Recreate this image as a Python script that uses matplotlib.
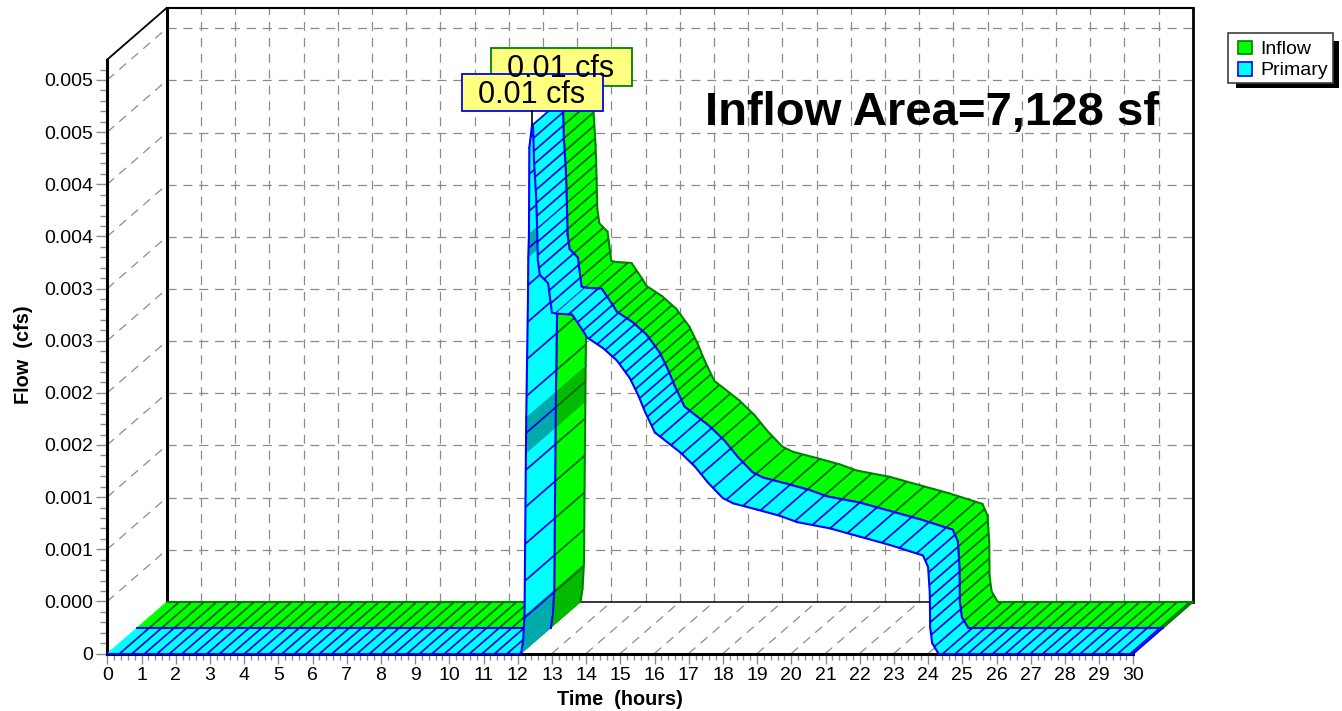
import math
import matplotlib
matplotlib.use('Agg')
import matplotlib.pyplot as plt
from matplotlib.patches import Rectangle

plt.rcParams['font.family'] = ['Liberation Sans', 'DejaVu Sans']

# hydrograph, Primary equals Inflow in shape
hours = [0, 12.1, 12.16, 12.2, 12.24, 12.25, 12.3, 12.31, 12.33, 12.34, 12.42,
         12.45, 12.48, 12.54, 12.57, 12.59, 12.65, 12.89, 13.0, 13.12, 13.59,
         13.9, 14.03, 14.49, 14.9, 15.28, 15.52, 15.72, 16.01, 16.75, 17.19,
         17.56, 18.0, 18.3, 19.0, 19.67, 20.17, 21.13, 22.01, 22.89, 23.85,
         24.0, 24.05, 24.06, 24.12, 24.3, 30]
flow = [0, 0, 0.00013, 0.00037, 0.00192, 0.00227, 0.00339, 0.0038, 0.00403, 0.00485, 0.00507,
        0.00505, 0.0047, 0.00438, 0.00406, 0.00377, 0.00363, 0.00355, 0.00327, 0.00326, 0.00325,
        0.0031, 0.00303, 0.00293, 0.00281, 0.00264, 0.00248, 0.00232, 0.00212, 0.00193, 0.00179,
        0.00164, 0.00149, 0.00144, 0.00138, 0.00132, 0.00126, 0.0012, 0.00112, 0.00104, 0.00094,
        0.00083, 0.00058, 0.00025, 0.0001, 0, 0]
shaded_from = [12.1, 12.16, 12.24, 12.31]  # darker facets on the rising limb

# hatch spacing in pixels, by the hour where that stretch ends
hatch_until = [12.1, 12.42, 13.9, 16.01, 17.56, 23.85, 30]
hatch_gap = [12.5, 37, 13, 10, 14, 18, 12.5]

x_ticks = list(range(31))
y_ticks = [i * 0.0005 for i in range(12)]
y_labels = ['0', '0.000', '0.001', '0.001', '0.002', '0.002', '0.003', '0.003',
            '0.004', '0.004', '0.005', '0.005']
y_top = 0.005696

W, H = 1342, 711
fig = plt.figure(figsize=(W / 100, H / 100), dpi=100)
ax = fig.add_axes([107.3 / W, 1 - 653.5 / H, (1133.3 - 107.3) / W, (653.5 - 59.5) / H])
ax.set_xlim(0, 30)
ax.set_ylim(0, y_top)

px_x = (1133.3 - 107.3) / 30
px_y = (653.5 - 59.5) / y_top
# one full depth of the 3d box, in data units
dx = 59.4 / px_x
dy = 51.6 / px_y

dash = (0, (7.2, 5.5))
grey = '#8c8c8c'

# left wall, back wall and floor grid
for v in y_ticks[1:]:
    ax.plot([0, dx], [v, v + dy], color=grey, lw=0.9, ls=dash, clip_on=False, zorder=1)
    ax.plot([dx, 30 + dx], [v + dy, v + dy], color=grey, lw=0.9, ls=dash, clip_on=False, zorder=1)
for h in x_ticks[1:-1]:
    ax.plot([h + dx, h + dx], [dy, y_top + dy], color=grey, lw=0.9, ls=dash, clip_on=False, zorder=1)
    ax.plot([h, h + dx], [0, dy], color=grey, lw=0.9, ls=dash, clip_on=False, zorder=1)

# box outline
ax.plot([dx, dx], [dy, y_top + dy], color='black', lw=2.2, clip_on=False, zorder=2)
ax.plot([30 + dx, 30 + dx], [dy, y_top + dy], color='black', lw=2.0, clip_on=False, zorder=2)
ax.plot([dx, 30 + dx], [y_top + dy, y_top + dy], color='black', lw=1.5, clip_on=False, zorder=2)
ax.plot([dx, 30 + dx], [dy, dy], color='black', lw=1.1, clip_on=False, zorder=2)
ax.plot([0, dx], [y_top, y_top + dy], color='black', lw=1.3, clip_on=False, zorder=2)


def gap_at(t):
    for end, gap in zip(hatch_until, hatch_gap):
        if t < end:
            return gap
    return hatch_gap[-1]


def draw_band(d0, d1, face, dark, edge, hatch, z):
    # ribbon between depth d0 and d1, segments painted in time order
    carry = 0.0
    for i in range(len(hours) - 1):
        t0, t1 = hours[i], hours[i + 1]
        f0, f1 = flow[i], flow[i + 1]
        z += 0.01
        col = dark if t0 in shaded_from else face
        ax.fill([t0 + d0 * dx, t1 + d0 * dx, t1 + d1 * dx, t0 + d1 * dx],
                [f0 + d0 * dy, f1 + d0 * dy, f1 + d1 * dy, f0 + d1 * dy],
                facecolor=col, edgecolor=col, lw=0.4, clip_on=False, zorder=z)
        seg = math.hypot((t1 - t0) * px_x, (f1 - f0) * px_y)
        gap = gap_at(t0)
        pos = max(gap - carry, 0.0)
        while pos < seg:
            a = pos / seg
            th = t0 + (t1 - t0) * a
            fh = f0 + (f1 - f0) * a
            ax.plot([th + d0 * dx, th + d1 * dx], [fh + d0 * dy, fh + d1 * dy], color=hatch,
                    lw=1.25, clip_on=False, zorder=z + 0.001, solid_capstyle='butt')
            pos += gap
        carry = seg - (pos - gap)
        for d in (d0, d1):
            ax.plot([t0 + d * dx, t1 + d * dx], [f0 + d * dy, f1 + d * dy], color=edge,
                    lw=1.5, clip_on=False, zorder=z + 0.002, solid_capstyle='round')
        z += 0.003
    ax.plot([30 + d0 * dx, 30 + d1 * dx], [d0 * dy, d1 * dy], color=edge, lw=1.5,
            clip_on=False, zorder=z + 0.01)


draw_band(0.5, 1.0, '#00FF00', '#00BB00', '#008000', '#006400', 3)
draw_band(0.0, 0.5, '#00FFFF', '#00AAAA', '#0000FF', '#0000DD', 5)

# axes
for side in ('top', 'right'):
    ax.spines[side].set_visible(False)
ax.spines['left'].set_linewidth(2.2)
ax.spines['bottom'].set_linewidth(2.2)
ax.patch.set_visible(False)

ax.set_xticks(x_ticks)
ax.set_xticks([h + k / 5 for h in x_ticks[:-1] for k in range(1, 5)], minor=True)
ax.set_yticks(y_ticks)
ax.set_yticklabels(y_labels)
ax.set_yticks([v + k * 0.0001 for v in y_ticks for k in range(1, 5)
               if v + k * 0.0001 < y_top], minor=True)
ax.tick_params(axis='both', which='major', color=grey, width=1, labelsize=14, pad=2)
ax.tick_params(axis='x', which='major', length=7, pad=3)
ax.tick_params(axis='y', which='major', length=8)
ax.tick_params(axis='x', which='minor', color=grey, width=1, length=4.3)
ax.tick_params(axis='y', which='minor', color=grey, width=1, length=5)
ax.set_xlabel('Time  (hours)', fontsize=14.3, fontweight='bold', labelpad=4)
ax.set_ylabel('Flow  (cfs)', fontsize=14.3, fontweight='bold')
ax.yaxis.set_label_coords(-74.0 / (1133.3 - 107.3), (653.5 - 355) / (653.5 - 59.5))

# annotations in pixel space
ov = fig.add_axes([0, 0, 1, 1])
ov.set_xlim(0, W)
ov.set_ylim(H, 0)
ov.axis('off')

ov.add_patch(Rectangle((490.5, 47.5), 141, 38, fc='#FFFF80', ec='#008000', lw=1.3))
ov.text(560.5, 69, '0.01 cfs', fontsize=22, ha='center', va='center')
ov.plot([532, 532], [111, 125], color='black', lw=1.2)
ov.add_patch(Rectangle((461.5, 73.5), 141, 37.5, fc='#FFFF80', ec='#0000FF', lw=1.3))
ov.text(531.5, 95, '0.01 cfs', fontsize=22, ha='center', va='center')

ov.text(932, 113, 'Inflow Area=7,128 sf', fontsize=34, fontweight='bold', ha='center', va='center')

ov.add_patch(Rectangle((1236, 41), 103, 47, fc='black', ec='none'))
ov.add_patch(Rectangle((1228, 33), 105, 50, fc='white', ec='#404040', lw=1.2))
ov.add_patch(Rectangle((1238, 40.5), 13.5, 13.5, fc='#00FF00', ec='#008000', lw=1.2))
ov.add_patch(Rectangle((1238, 62), 13.5, 14, fc='#00FFFF', ec='#0000FF', lw=1.2))
ov.text(1260, 49.5, 'Inflow', fontsize=14, ha='left', va='center')
ov.text(1260, 70.5, 'Primary', fontsize=14, ha='left', va='center')

fig.savefig('out.png', dpi=100)
